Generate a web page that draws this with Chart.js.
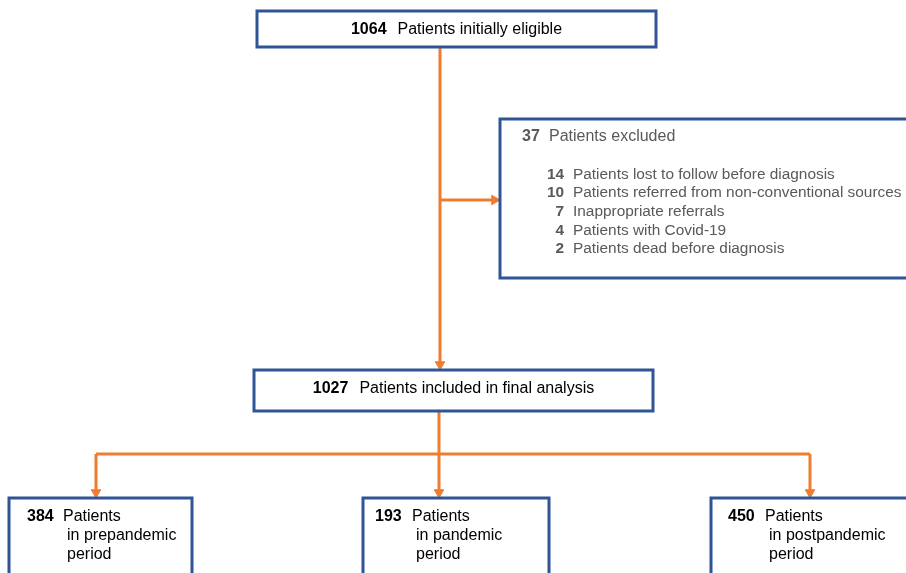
<!DOCTYPE html>
<html><head><meta charset="utf-8">
<script src="https://cdn.jsdelivr.net/npm/chart.js@4"></script>
<style>html,body{margin:0;padding:0;background:#fff;overflow:hidden}canvas{display:block}</style>
</head><body>
<canvas id="c" width="906" height="573"></canvas>
<script>
// ---- data ----
const stageLabels = ['Patients initially eligible', 'Patients excluded', 'Patients included in final analysis'];
const stageCounts = [1064, 37, 1027];
const exclusionReasons = ['Patients lost to follow before diagnosis', 'Patients referred from non-conventional sources', 'Inappropriate referrals', 'Patients with Covid-19', 'Patients dead before diagnosis'];
const exclusionCounts = [14, 10, 7, 4, 2];
const periodLabels = [['Patients', 'in prepandemic', 'period'], ['Patients', 'in pandemic', 'period'], ['Patients', 'in postpandemic', 'period']];
const periodCounts = [384, 193, 450];

// ---- layout (positions in the 906x573 coordinate space) ----
const BLUE = '#2F5597', ORANGE = '#ED7D31';
const FONT = '"Liberation Sans", Arial, sans-serif';
const boxes = {
  top: {x0: 257, y0: 11, x1: 656, y1: 47},
  excl: {x0: 500, y0: 119, x1: 915, y1: 278},
  incl: {x0: 254, y0: 370, x1: 653, y1: 411},
  periods: [{x0: 9, y0: 498, x1: 192, y1: 585}, {x0: 363, y0: 498, x1: 549, y1: 585}, {x0: 711, y0: 498, x1: 915, y1: 585}]
};
const rectPath = b => [
  {x: (b.x0 + b.x1) / 2, y: b.y0}, {x: b.x1, y: b.y0}, {x: b.x1, y: b.y1},
  {x: b.x0, y: b.y1}, {x: b.x0, y: b.y0}, {x: (b.x0 + b.x1) / 2, y: b.y0}
];
const R = 5.5;
const boxList = [boxes.top, boxes.excl, boxes.incl, ...boxes.periods];
const boxDatasets = boxList.map(b => ({
  data: rectPath(b), showLine: true, borderColor: BLUE, borderWidth: 3,
  pointRadius: 0, borderJoinStyle: 'miter', tension: 0, fill: false, clip: false
}));
const mainX = 440, splitX = 439, splitY = 454;
const periodXs = [96, 439, 810];
const lines = [
  [{x: mainX, y: boxes.top.y1}, {x: mainX, y: boxes.incl.y0 - R}],
  [{x: mainX, y: 200}, {x: boxes.excl.x0 - R, y: 200}],
  [{x: splitX, y: boxes.incl.y1}, {x: splitX, y: splitY}],
  [{x: periodXs[0], y: splitY}, {x: periodXs[2], y: splitY}],
  ...periodXs.map(px => [{x: px, y: splitY}, {x: px, y: boxes.periods[0].y0 - R}])
];
const lineDatasets = lines.map(d => ({
  data: d, showLine: true, borderColor: ORANGE, borderWidth: 3, pointRadius: 0,
  borderCapStyle: 'butt', tension: 0
}));
const arrowDown = [{x: mainX, y: boxes.incl.y0 - R}, ...periodXs.map(px => ({x: px, y: boxes.periods[0].y0 - R}))];
const arrowDatasets = [
  {data: arrowDown, showLine: false, pointStyle: 'triangle', rotation: 180, pointRadius: R,
   backgroundColor: ORANGE, borderColor: ORANGE, borderWidth: 1},
  {data: [{x: boxes.excl.x0 - R, y: 200}], showLine: false, pointStyle: 'triangle', rotation: 90, pointRadius: R,
   backgroundColor: ORANGE, borderColor: ORANGE, borderWidth: 1}
];

const textPlugin = {
  id: 'flowText',
  afterDatasetsDraw(chart) {
    const ctx = chart.ctx, xs = chart.scales.x, ys = chart.scales.y;
    const X = v => xs.getPixelForValue(v), Y = v => ys.getPixelForValue(v);
    ctx.save();
    ctx.textBaseline = 'middle';
    const bold = 'bold 16px ' + FONT, reg = '16px ' + FONT;
    const boldS = 'bold 15.4px ' + FONT, regS = '15.4px ' + FONT;
    // centered stage boxes
    const centered = (b, num, label, y, color) => {
      ctx.font = bold; const wn = ctx.measureText(String(num)).width;
      ctx.font = reg; const wl = ctx.measureText(label).width;
      const gap = 11, total = wn + gap + wl;
      const cx = (X(b.x0) + X(b.x1)) / 2, start = cx - total / 2;
      ctx.fillStyle = color; ctx.textAlign = 'left';
      ctx.font = bold; ctx.fillText(String(num), start, Y(y));
      ctx.font = reg; ctx.fillText(label, start + wn + gap, Y(y));
    };
    centered(boxes.top, stageCounts[0], stageLabels[0], 30, '#000');
    centered(boxes.incl, stageCounts[2], stageLabels[2], 389, '#000');
    // exclusion box
    const GRAY = '#595959';
    ctx.fillStyle = GRAY; ctx.textAlign = 'left';
    ctx.font = bold; ctx.fillText(String(stageCounts[1]), X(522), Y(136.5));
    ctx.font = reg; ctx.fillText(stageLabels[1], X(549), Y(136.5));
    exclusionCounts.forEach((n, i) => {
      const y = 174.5 + i * 18.6;
      ctx.font = boldS; ctx.textAlign = 'right'; ctx.fillText(String(n), X(564), Y(y));
      ctx.font = regS; ctx.textAlign = 'left'; ctx.fillText(exclusionReasons[i], X(573), Y(y));
    });
    // period boxes
    const numX = [27, 375, 728], labX = [63, 412, 765];
    ctx.fillStyle = '#000';
    periodCounts.forEach((n, i) => {
      ctx.textAlign = 'left';
      ctx.font = bold; ctx.fillText(String(n), X(numX[i]), Y(516.5));
      ctx.font = reg;
      periodLabels[i].forEach((t, j) => {
        ctx.fillText(t, X(labX[i] + (j ? 4 : 0)), Y(516.5 + j * 19.2));
      });
    });
    ctx.restore();
  }
};

new Chart(document.getElementById('c'), {
  type: 'scatter',
  data: {datasets: [...boxDatasets, ...lineDatasets, ...arrowDatasets]},
  options: {
    responsive: false, animation: false, events: [],
    layout: {padding: 0, autoPadding: false},
    plugins: {legend: {display: false}, tooltip: {enabled: false}},
    scales: {
      x: {type: 'linear', min: 0, max: 906, display: false},
      y: {type: 'linear', min: 0, max: 573, reverse: true, display: false}
    }
  },
  plugins: [textPlugin]
});
</script>
</body></html>
